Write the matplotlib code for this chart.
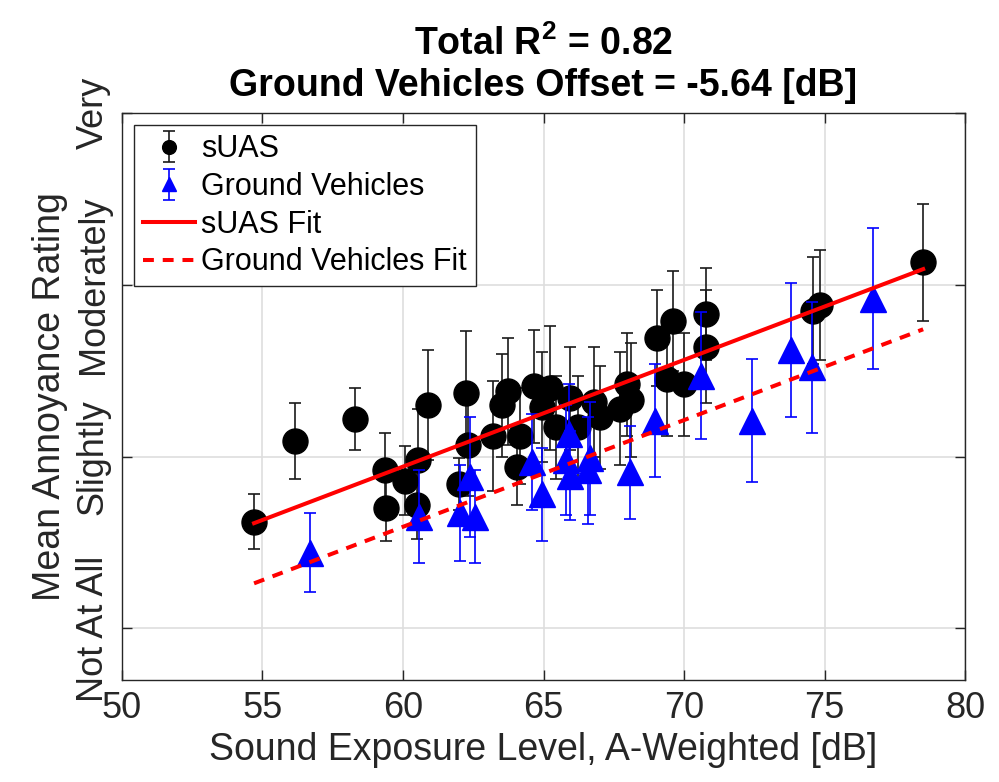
import numpy as np
import matplotlib
matplotlib.use('Agg')
import matplotlib.pyplot as plt

plt.rcParams['font.family'] = ['Liberation Sans', 'DejaVu Sans']
plt.rcParams['mathtext.fontset'] = 'custom'
plt.rcParams['mathtext.rm'] = 'Liberation Sans'
plt.rcParams['mathtext.bf'] = 'Liberation Sans:bold'

# sUAS events: SEL [dB], mean rating, error half-width
suas_sel = [54.70, 56.16, 58.29, 59.36, 59.40, 60.07, 60.53, 60.50, 60.89, 62.24,
            62.31, 61.99, 63.20, 63.52, 63.74, 64.06, 64.16, 64.66, 65.23, 64.95,
            65.44, 65.94, 66.23, 66.80, 67.01, 67.72, 67.97, 68.11, 69.04, 69.61,
            69.40, 70.00, 70.78, 70.78, 74.59, 74.84, 78.51]
suas_rating = [1.62, 2.09, 2.22, 1.92, 1.70, 1.86, 1.98, 1.72, 2.30, 2.37,
               2.07, 1.84, 2.12, 2.30, 2.38, 1.94, 2.12, 2.41, 2.40, 2.29,
               2.17, 2.34, 2.17, 2.32, 2.23, 2.28, 2.42, 2.33, 2.69, 2.79,
               2.45, 2.42, 2.83, 2.64, 2.85, 2.88, 3.13]
suas_err = [0.16, 0.22, 0.18, 0.22, 0.19, 0.20, 0.30, 0.20, 0.32, 0.36,
            0.30, 0.15, 0.32, 0.30, 0.31, 0.22, 0.28, 0.33, 0.36, 0.32,
            0.30, 0.30, 0.30, 0.32, 0.30, 0.33, 0.30, 0.33, 0.28, 0.29,
            0.33, 0.30, 0.27, 0.33, 0.31, 0.32, 0.34]

# ground vehicle events
gv_sel = [56.69, 60.57, 62.03, 62.56, 62.38, 64.59, 64.95, 65.91, 65.80, 65.94,
          66.65, 66.58, 68.08, 68.97, 70.60, 72.42, 73.81, 74.56, 76.73]
gv_rating = [1.44, 1.65, 1.67, 1.65, 1.88, 1.97, 1.78, 2.13, 1.98, 1.89,
             1.99, 1.92, 1.91, 2.21, 2.47, 2.21, 2.62, 2.52, 2.92]
gv_err = [0.23, 0.27, 0.28, 0.27, 0.35, 0.28, 0.27, 0.29, 0.32, 0.26,
          0.33, 0.31, 0.27, 0.33, 0.37, 0.36, 0.39, 0.38, 0.41]

# fit: rating = slope * (SEL + offset) + intercept
fit_slope = 0.0621
fit_intercept = -1.784
gv_offset = -5.64
r_squared = 0.82

rating_labels = ['Not At All', 'Slightly', 'Moderately', 'Very']

fig = plt.figure(figsize=(9.99, 7.82), dpi=100)
ax = fig.add_axes([0.1221, 0.1304, 0.8439, 0.7251])

h1 = ax.errorbar(suas_sel, suas_rating, yerr=suas_err, fmt='o', color='k', ecolor='#1a1a1a',
                 ms=18, elinewidth=1.2, capsize=4, capthick=1.2, label='sUAS', zorder=3)
h2 = ax.errorbar(gv_sel, gv_rating, yerr=gv_err, fmt='^', color='b', ecolor='b',
                 ms=19, elinewidth=1.2, capsize=4, capthick=1.2, label='Ground Vehicles', zorder=4)

x_fit = np.array([min(suas_sel + gv_sel), max(suas_sel + gv_sel)])
h3, = ax.plot(x_fit, fit_slope * x_fit + fit_intercept, color='r', lw=2.9,
              label='sUAS Fit', zorder=5)
h4, = ax.plot(x_fit, fit_slope * (x_fit + gv_offset) + fit_intercept, color='r', lw=2.9,
              ls=(0, (2.7, 2.2)), label='Ground Vehicles Fit', zorder=5)

ax.set_xlim(50, 80)
ax.set_ylim(0.7, 4)
ax.set_xticks(range(50, 81, 5))
ax.set_yticks([1, 2, 3, 4])
ax.set_yticklabels(rating_labels, rotation=90, va='center')
ax.tick_params(direction='in', length=7, width=1, top=True, right=True,
               labelsize=26, colors='#262626', pad=8)
ax.grid(True, color='#dedede', lw=1.2)
ax.set_axisbelow(True)
for s in ax.spines.values():
    s.set_color('#262626')
    s.set_linewidth(1)

ax.set_xlabel('Sound Exposure Level, A-Weighted [dB]', fontsize=27, color='#262626')
ax.set_ylabel('Mean Annoyance Rating', fontsize=27, color='#262626', labelpad=6)
ax.set_title('Total R$^{\\mathbf{2}}$ = %.2f\nGround Vehicles Offset = %.2f [dB]' % (r_squared, gv_offset),
             fontsize=27, fontweight='bold', linespacing=1.2, pad=12)

leg = ax.legend([h1, h2, h3, h4], ['sUAS', 'Ground Vehicles', 'sUAS Fit', 'Ground Vehicles Fit'],
                loc='upper left', fontsize=22, handlelength=1.7, handletextpad=0.2,
                labelspacing=0.25, borderpad=0.3, borderaxespad=0.4, fancybox=False,
                framealpha=1, edgecolor='#262626', markerscale=0.55)
leg.get_frame().set_linewidth(1)

fig.savefig('out.png', dpi=100)
